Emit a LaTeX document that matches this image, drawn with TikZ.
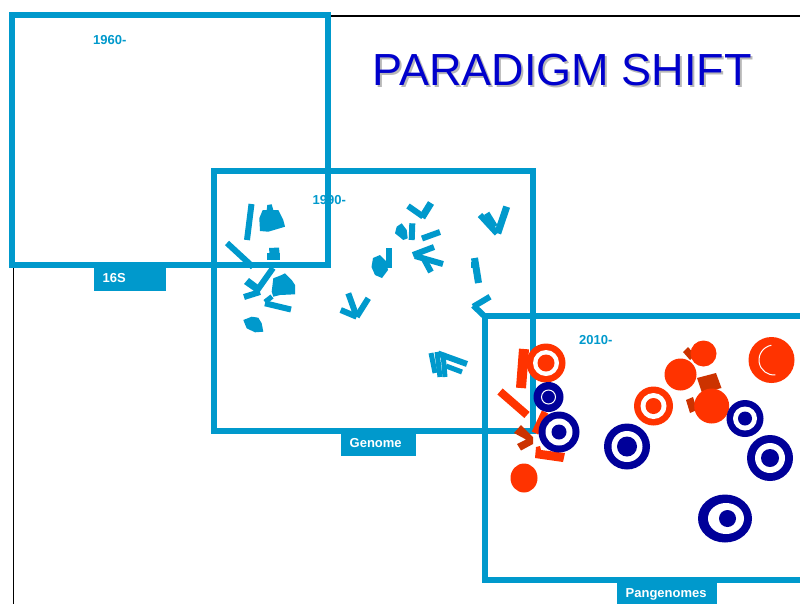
\documentclass[tikz,border=0pt]{standalone}
\usepackage{fontspec}
\setmainfont{Liberation Sans}
\definecolor{sky}{RGB}{0,153,204}
\definecolor{titleblue}{RGB}{0,0,204}
\definecolor{navy}{RGB}{0,0,153}
\definecolor{flame}{RGB}{255,51,0}
\definecolor{rust}{RGB}{204,51,0}
\newcommand\targetmark[6]{%
  \fill[#6] (#1,#2) circle[radius=#3pt];
  \fill[white] (#1,#2) circle[radius=#4pt];
  \fill[#6] (#1,#2) circle[radius=#5pt];}
\newcommand\shadowed[1]{\makebox[0pt][l]{\hspace*{2pt}\raisebox{-2pt}{\textcolor{black!28}{#1}}}#1}
\tikzset{
  era/.style={draw=sky, line width=6pt},
  bar/.style={draw=sky, line width=6pt},
  chip/.style={fill=sky},
  ored/.style={draw=flame, line width=8pt},
  yearlbl/.style={font=\bfseries\fontsize{13}{13}\selectfont, text=sky, anchor=base west, inner sep=0pt},
  tab/.style={fill=sky},
  tablbl/.style={font=\bfseries\fontsize{13}{13}\selectfont, text=white, anchor=base west, inner sep=0pt},
}
\begin{document}
\begin{tikzpicture}[x=1pt, y=-1pt]
\useasboundingbox (0,0) rectangle (800,603);
\fill[white] (0,0) rectangle (800,603);

% thin black frame of the page
\draw[black, line width=1.8pt] (13.5,610) -- (13.5,16) -- (805,16);

% title with drop shadow
\node[font=\fontsize{45}{45}\selectfont, text=titleblue, anchor=base, inner sep=0pt] (title) at (562,85) {\shadowed{PARADIGM SHIFT}};

% era frames
\draw[era] (12,15) rectangle (328,265);
\draw[era] (214,171) rectangle (533,431);
\draw[era] (485,316) rectangle (812,580);

% era tabs
\fill[tab] (94,268) rectangle (166,291);
\node[tablbl] (tab16s) at (102.5,282.5) {16S};
\fill[tab] (341,433) rectangle (416,456);
\node[tablbl] (tabgenome) at (349.5,447.5) {Genome};
\fill[tab] (617,583) rectangle (717,606);
\node[tablbl] (tabpan) at (625.5,597.5) {Pangenomes};

% year labels
\node[yearlbl] (y1960) at (93,44.3) {1960-};
\node[yearlbl] (y1990) at (312.5,204.3) {1990-};
\node[yearlbl] (y2010) at (579,344) {2010-};

% ---- scattered blue fragments (genome era) ----
\draw[bar] (251.5,204) -- (247,240);
\fill[chip] (262.7,210) -- (266.7,210) -- (267.3,205) -- (271.7,204.3) -- (273.3,210) -- (278.3,210) -- (283.3,220) -- (285,226.7) -- (268.3,231.7) -- (260,231) -- (259.3,218.3) -- cycle;
\draw[bar] (227,243) -- (253,267);
\fill[chip] (267,253) rectangle (280,260);
\fill[chip] (269,248) -- (279,247.5) -- (279.5,253) -- (269.5,253.5) -- cycle;
\draw[bar] (273,268) -- (256,292);
\fill[chip] (244,284) -- (249,278) -- (261,287) -- (257,293) -- cycle;
\draw[bar] (244,297) -- (260,292);
\fill[chip] (273.3,278.3) -- (281.7,275) -- (285,273.3) -- (288.3,276.7) -- (291.7,280) -- (295,285) -- (295,294.3) -- (280,295) -- (273.3,296.7) -- (271.7,291.7) -- cycle;
\draw[bar] (265,303.3) -- (291,309.5);
\draw[bar, line width=5pt] (265,302) -- (272,296.5);
\fill[chip] (243.3,320) -- (251.7,316.7) -- (258.3,317.7) -- (261.7,323.3) -- (263.3,331.7) -- (255,332.3) -- (246.7,328.3) -- cycle;

\draw[bar] (408,206) -- (423,216.5);
\draw[bar, line width=7pt] (431,203) -- (422,217.5);
\fill[chip] (396.7,226.7) -- (401.7,223.3) -- (406.7,230) -- (407.7,238.3) -- (403.3,240) -- (395,233.3) -- cycle;
\draw[bar] (412.3,223.3) -- (411.7,240);
\draw[bar] (422,238.5) -- (440,232);
\draw[bar] (415,256) -- (443,264);
\draw[bar] (413,255) -- (434,247);
\draw[bar] (424,259) -- (431,272);
\draw[bar] (388.5,248) -- (388.5,268);
\fill[chip] (373,258) -- (380,255) -- (386,261) -- (388,270) -- (382,278) -- (375,275) -- (371.5,267) -- cycle;
\draw[bar] (348.3,293.3) -- (356.7,316.7);
\draw[bar] (368.3,298.3) -- (356.7,316.7);
\draw[bar] (340.7,310) -- (356.7,316.7);

\draw[bar] (480,215) -- (497,233.5);
\draw[bar, line width=7pt] (506.7,206.7) -- (497.7,233.3);
\draw[bar] (486.7,213.3) -- (495,226.7);
\draw[bar, line width=7pt] (474.5,258) -- (478.5,283);
\fill[chip] (470.5,262) rectangle (475.5,268);
\draw[bar] (490,296.7) -- (473.3,306.7);
\draw[bar] (473.3,305.5) -- (486.7,318.3);

\draw[bar, line width=5pt] (431,353) -- (435,373);
\draw[bar, line width=5pt] (437,352) -- (440,377);
\draw[bar, line width=5pt] (443,353) -- (445,377);
\draw[bar] (438,353.5) -- (467,364);
\draw[bar, line width=5pt] (446,366) -- (462,372);

% ---- red and navy pieces (pangenome era) ----
\draw[ored, line width=10pt] (524,349) -- (521,388);
\targetmark{546}{363}{19.5}{13}{8.5}{flame}
\draw[ored] (500,391.5) -- (527,415);
\draw[ored, line width=7pt] (545,412) -- (535,433);
\fill[rust] (514,433) -- (521,425) -- (533,437) -- (533,444) -- (521,450.5) -- (517,444) -- (526,439.5) -- cycle;
\fill[flame] (536,447) -- (540,446) -- (541,450) -- (565,453) -- (563,462) -- (535,458) -- cycle;
\fill[navy] (548.5,397) circle[radius=15pt];
\draw[white, line width=1pt] (548.5,397) circle[radius=7pt];
\targetmark{559}{432}{20.5}{13.5}{7.5}{navy}
\fill[flame] (524,478) circle[x radius=13.5pt, y radius=14.5pt];

\targetmark{627}{446.5}{23}{15.5}{10}{navy}
\targetmark{653.5}{406}{19.5}{13}{8}{flame}
\fill[rust] (683,352) -- (688,347) -- (695,355) -- (690,360) -- cycle;
\fill[flame] (703.5,353.5) circle[radius=13pt];
\fill[flame] (680.5,374.5) circle[radius=16pt];
\fill[rust] (697,378) -- (716,373) -- (721.5,388) -- (702,393) -- cycle;
\fill[rust] (686,400) -- (693,397) -- (697,410) -- (690,413) -- cycle;
\fill[flame] (711.7,406) circle[radius=17.5pt];
\coordinate (bigdot) at (771.5,360);
\fill[flame] (bigdot) circle[radius=23pt];
\coordinate (arcc) at (774,360);
\draw[white, line width=1pt] (arcc) ++(100:15pt) arc[start angle=100, end angle=275, radius=15pt];
\targetmark{745}{418.5}{18.5}{12}{7}{navy}
\targetmark{770}{458}{23}{15}{9}{navy}
\fill[navy] (725,518.5) circle[x radius=27pt, y radius=24pt];
\fill[white] (726,518.5) circle[x radius=18pt, y radius=15.5pt];
\fill[navy] (727.5,518.5) circle[radius=8.5pt];
\end{tikzpicture}
\end{document}
